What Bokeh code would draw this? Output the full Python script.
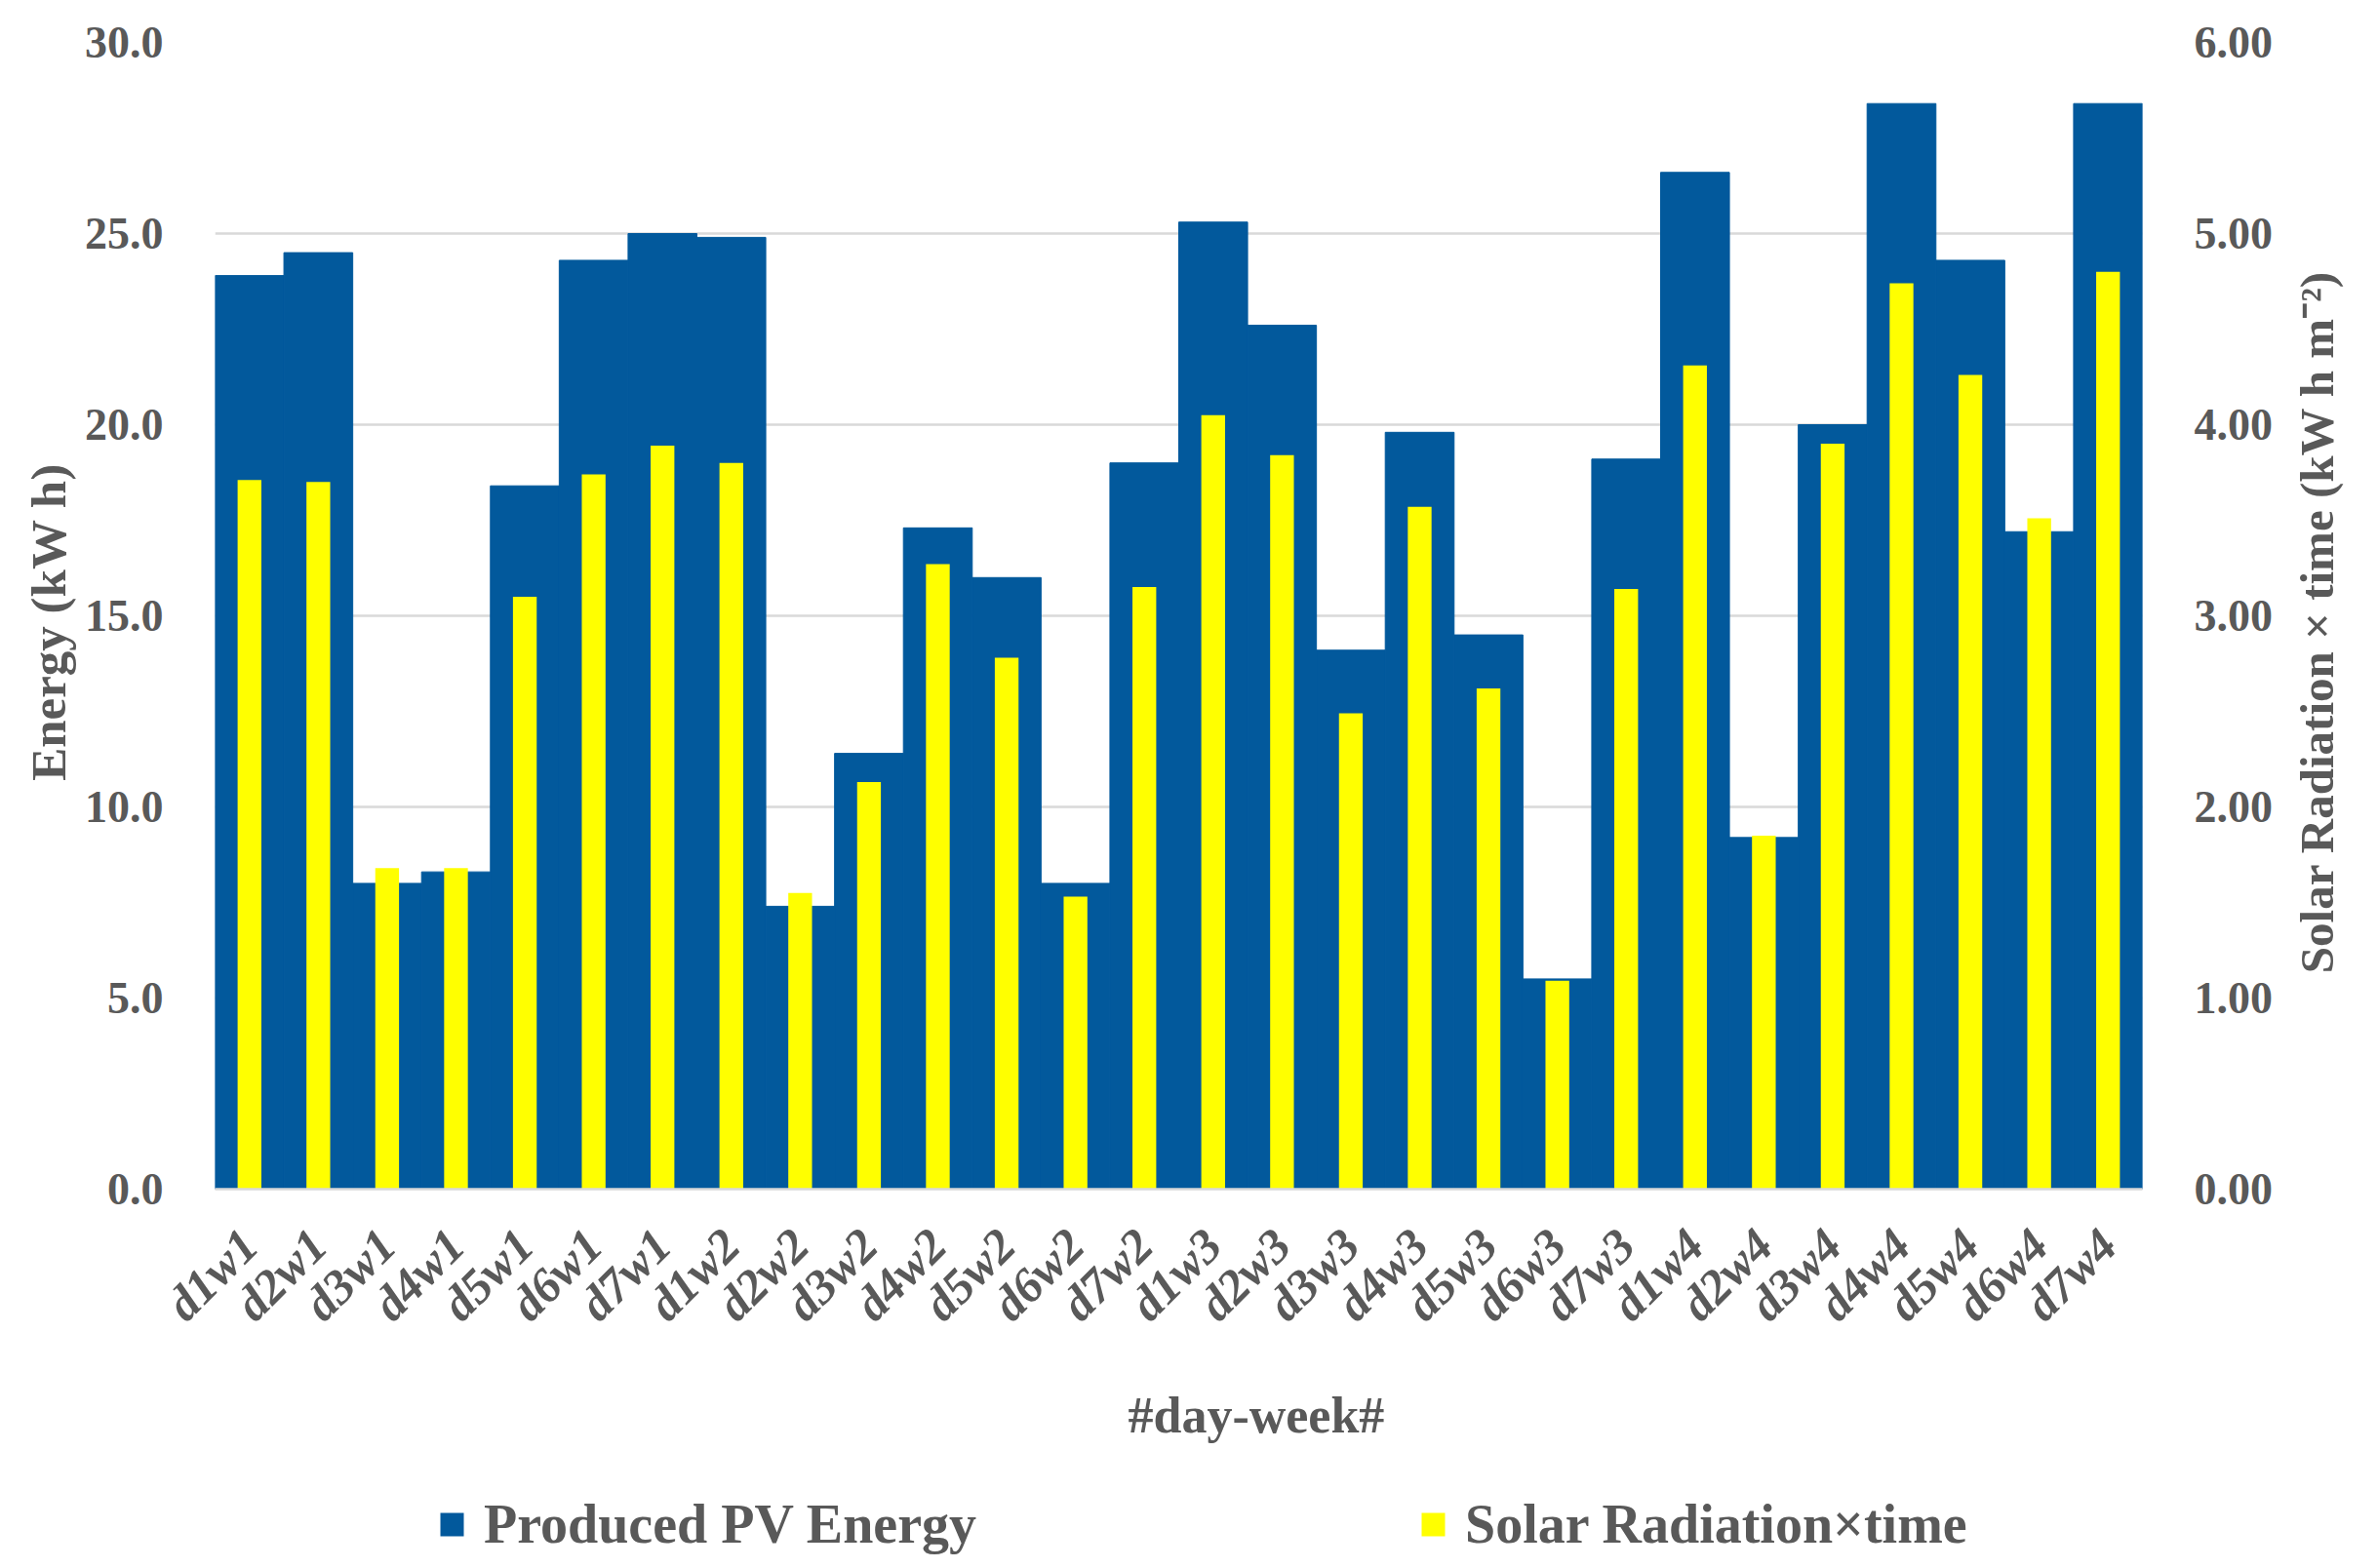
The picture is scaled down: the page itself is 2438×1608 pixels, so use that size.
import math
from bokeh.layouts import column, row
from bokeh.models import (ColumnDataSource, FactorRange, Range1d, LinearAxis, FixedTicker,
                          NumeralTickFormatter, SingleIntervalTicker, Legend, LegendItem, Title)
from bokeh.plotting import figure
from bokeh.embed import file_html
from bokeh.resources import INLINE

days = ["d1w1", "d2w1", "d3w1", "d4w1", "d5w1", "d6w1", "d7w1",
        "d1w2", "d2w2", "d3w2", "d4w2", "d5w2", "d6w2", "d7w2",
        "d1w3", "d2w3", "d3w3", "d4w3", "d5w3", "d6w3", "d7w3",
        "d1w4", "d2w4", "d3w4", "d4w4", "d5w4", "d6w4", "d7w4"]

# kW h (left axis)
pv_energy = [23.9, 24.5, 8.0, 8.3, 18.4, 24.3, 25.0,
             24.9, 7.4, 11.4, 17.3, 16.0, 8.0, 19.0,
             25.3, 22.6, 14.1, 19.8, 14.5, 5.5, 19.1,
             26.6, 9.2, 20.0, 28.4, 24.3, 17.2, 28.4]

# kW h m-2 (right axis)
solar_radiation = [3.71, 3.70, 1.68, 1.68, 3.10, 3.74, 3.89,
                   3.80, 1.55, 2.13, 3.27, 2.78, 1.53, 3.15,
                   4.05, 3.84, 2.49, 3.57, 2.62, 1.09, 3.14,
                   4.31, 1.85, 3.90, 4.74, 4.26, 3.51, 4.80]

BLUE = "#02599C"
YELLOW = "#FFFF00"
GREY = "#595959"
FONT = "Liberation Serif"

src = ColumnDataSource(data=dict(day=days, pv=pv_energy, solar=solar_radiation))

p = figure(
    x_range=FactorRange(*days, range_padding=0),
    y_range=Range1d(0, 30),
    width=2340, height=1520,
    output_backend="svg", toolbar_location=None,
    min_border_left=220, min_border_right=144,
    min_border_top=43, min_border_bottom=301,
)
p.extra_y_ranges = {"solar": Range1d(0, 6)}

p.vbar(x="day", top="pv", width=1.0, source=src,
       fill_color=BLUE, line_color=BLUE, line_width=1)
p.vbar(x="day", top="solar", width=0.345, source=src,
       y_range_name="solar", fill_color=YELLOW, line_color=None)

p.outline_line_color = None
p.xgrid.grid_line_color = None
p.ygrid.grid_line_color = "#d9d9d9"
p.ygrid.grid_line_width = 2.5

# left axis
p.yaxis.ticker = SingleIntervalTicker(interval=5)
p.yaxis.formatter = NumeralTickFormatter(format="0.0")
p.yaxis.axis_label = "Energy  (kW h)"

# right axis, tick labels only (its title sits in the narrow figure next to it)
right = LinearAxis(y_range_name="solar", ticker=SingleIntervalTicker(interval=1),
                   formatter=NumeralTickFormatter(format="0.00"))
p.add_layout(right, "right")

for ax in [p.yaxis[0], right]:
    ax.axis_line_color = None
    ax.major_tick_line_color = None
    ax.minor_tick_line_color = None
    ax.major_label_standoff = 47
    ax.major_label_text_font = FONT
    ax.major_label_text_font_style = "bold"
    ax.major_label_text_font_size = "46px"
    ax.major_label_text_color = GREY
    ax.axis_label_text_font = FONT
    ax.axis_label_text_font_style = "bold"
    ax.axis_label_text_font_size = "51px"
    ax.axis_label_text_color = GREY
    ax.axis_label_standoff = 6

# bottom axis
xa = p.xaxis[0]
xa.axis_line_color = "#d9d9d9"
xa.axis_line_width = 2.5
xa.major_tick_line_color = None
xa.minor_tick_line_color = None
xa.major_label_orientation = math.pi / 4
xa.major_label_standoff = 43
xa.major_label_text_font = FONT
xa.major_label_text_font_style = "bold italic"
xa.major_label_text_font_size = "50px"
xa.major_label_text_color = GREY

# x title, a little right of centre like the original
x_title = Title(text="#day-week#", align="left", offset=936, standoff=66,
                text_font=FONT, text_font_style="bold", text_font_size="52px",
                text_color=GREY)
p.add_layout(x_title, "below")

# narrow strip carrying the right axis title, reading bottom to top
q = figure(width=80, height=1520, output_backend="svg", toolbar_location=None,
           x_range=Range1d(0, 1), y_range=Range1d(0, 1),
           x_axis_location=None, y_axis_location="left",
           min_border_left=70, min_border_right=0,
           min_border_top=43, min_border_bottom=301)
q.outline_line_color = None
q.grid.visible = False
q.scatter(x=[0.5], y=[0.5], size=0, alpha=0)
qa = q.yaxis[0]
qa.ticker = FixedTicker(ticks=[])
qa.axis_line_color = None
qa.major_tick_line_color = None
qa.minor_tick_line_color = None
qa.major_tick_out = 0
qa.major_label_standoff = 0
qa.axis_label = "Solar Radiation \u00d7 time  (kW h m\u207b\u00b2)"
qa.axis_label_text_font = FONT
qa.axis_label_text_font_style = "bold"
qa.axis_label_text_font_size = "49px"
qa.axis_label_text_color = GREY
qa.axis_label_standoff = 8

# legend strip under the chart; the key bars sit outside its range
leg = figure(width=2420, height=80, output_backend="svg", toolbar_location=None,
             x_range=Range1d(0, 1), y_range=Range1d(0, 1),
             x_axis_location=None, y_axis_location=None, min_border=0)
leg.outline_line_color = None
leg.grid.visible = False
key_pv = leg.vbar(x=[10], top=[1], width=1, fill_color=BLUE, line_color=None)
key_solar = leg.vbar(x=[10], top=[1], width=1, fill_color=YELLOW, line_color=None)

legend_style = dict(
    orientation="horizontal", glyph_width=30, glyph_height=30, label_standoff=18,
    label_text_font=FONT, label_text_font_style="bold",
    label_text_font_size="56px", label_text_color=GREY,
    border_line_color=None, background_fill_alpha=0, margin=0, padding=0,
)
leg.add_layout(Legend(items=[LegendItem(label="Produced PV Energy", renderers=[key_pv])],
                      location=(448, 5), **legend_style))
leg.add_layout(Legend(items=[LegendItem(label="Solar Radiation\u00d7time", renderers=[key_solar])],
                      location=(1454, 5), **legend_style))

page = column(row(p, q), leg)
open("out.html", "w").write(file_html(page, INLINE))
